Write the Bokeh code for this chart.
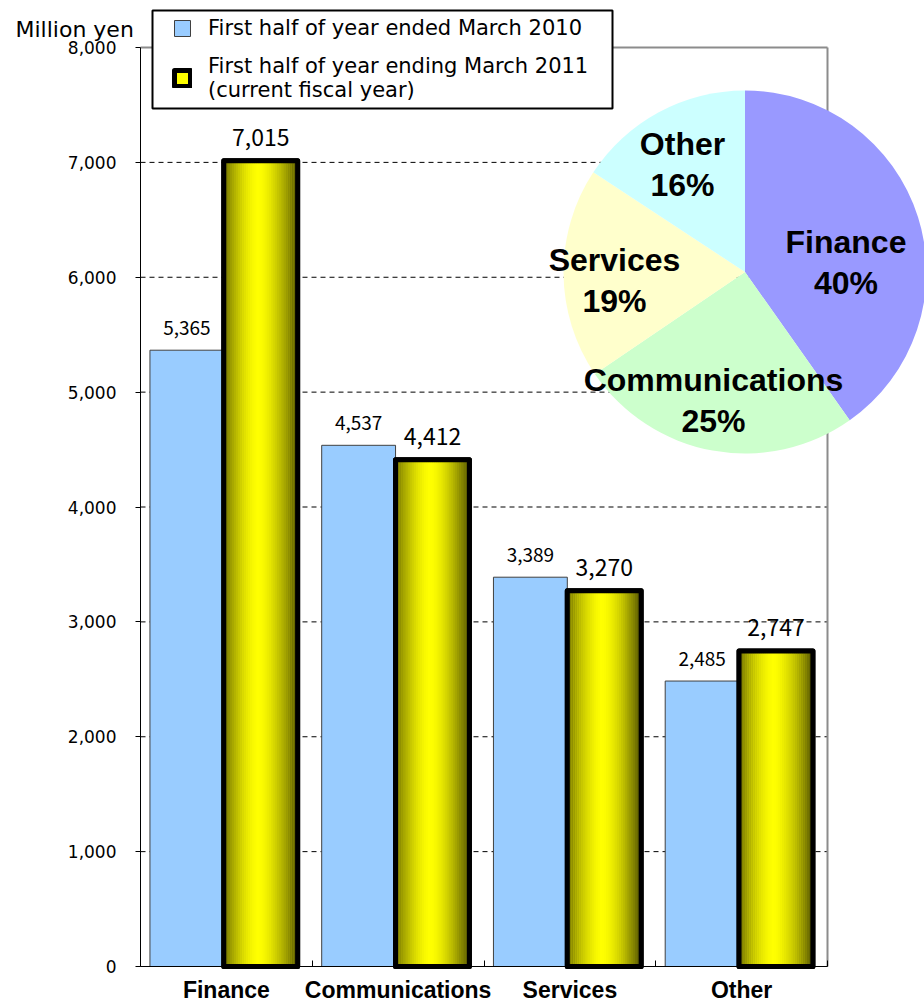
import numpy as np
from bokeh.plotting import figure
from bokeh.models import (Range1d, FixedTicker, NumeralTickFormatter, Legend,
                          LegendItem, Label, BoxAnnotation)
from bokeh.core.properties import value
from bokeh.embed import file_html
from bokeh.resources import INLINE

# ---------------- data ----------------
categories = ["Finance", "Communications", "Services", "Other"]
h1_2010 = [5365, 4537, 3389, 2485]
h1_2011 = [7015, 4412, 3270, 2747]
pie_colors = ["#9999FF", "#CCFFCC", "#FFFFCC", "#CCFFFF"]
y_ticks = [0, 1000, 2000, 3000, 4000, 5000, 6000, 7000, 8000]
legend_labels = ["First half of year ended March 2010",
                 "First half of year ending March 2011\n(current fiscal year)"]
unit_label = "Million yen"

# ---------------- layout constants (pixels) ----------------
W, H = 924, 1003
AX_X = 140          # y axis position
AX_TOP = 47         # pixel row of 8,000
AX_Y0 = 966         # pixel row of 0
PX_PER_CAT = 171.75
ncat = len(categories)
px_per_y = (AX_Y0 - AX_TOP) / 8000.0
bar_w = 0.43
off_a, off_b = 0.27, 0.70


def px2x(px):
    return (px - AX_X) / PX_PER_CAT


def px2y(py):
    return (AX_Y0 - py) / px_per_y


p = figure(width=W, height=H, output_backend="svg", toolbar_location=None,
           x_range=Range1d(px2x(0), px2x(W)), y_range=Range1d(px2y(H), px2y(0)),
           min_border_left=0, min_border_right=0, min_border_top=0,
           min_border_bottom=0, background_fill_color="white",
           border_fill_color="white")
p.outline_line_color = None
p.xgrid.visible = False
p.ygrid.visible = False

idx = np.arange(ncat)

# dashed grid lines inside the plot area
p.segment(x0=[0] * (len(y_ticks) - 2), x1=[ncat] * (len(y_ticks) - 2),
          y0=y_ticks[1:-1], y1=y_ticks[1:-1], line_color="black",
          line_width=1, line_dash="5 4", level="underlay")

# plot-area border (top and right)
p.segment(x0=[0, ncat], y0=[y_ticks[-1], 0], x1=[ncat, ncat],
          y1=[y_ticks[-1], y_ticks[-1]], line_color="#8c8c8c", line_width=2)

# blue bars
r_blue = p.vbar(x=idx + off_a, width=bar_w, top=h1_2010, fill_color="#99CCFF",
                line_color="#404040", line_width=1)

# yellow bars: base, gradient stripes, outline
r_yel = p.vbar(x=idx + off_b, width=bar_w, top=h1_2011, fill_color="#FFFF00",
               line_color="black", line_width=5, line_join="round")
N = 36
xs, tops, cols = [], [], []
for i in range(ncat):
    for k in range(N):
        t = (k + 0.5) / N
        d = abs(t - 0.47) / 0.53
        b = 1 - 0.68 * d ** 1.6
        c = int(round(255 * b))
        xs.append(i + off_b - bar_w / 2 + t * bar_w)
        tops.append(h1_2011[i])
        cols.append("#%02x%02x00" % (c, c))
p.vbar(x=xs, width=bar_w / N * 1.15, top=tops, fill_color=cols, line_color=None)
p.vbar(x=idx + off_b, width=bar_w, top=h1_2011, fill_color=None,
       line_color="black", line_width=5, line_join="round")

# value labels
p.text(x=idx + off_a, y=h1_2010, text=[f"{v:,}" for v in h1_2010],
       y_offset=-22, text_align="center", text_baseline="alphabetic",
       text_font=value("Noto Sans CJK JP"), text_font_size="19px",
       text_color="black")
p.text(x=idx + off_b, y=h1_2011, text=[f"{v:,}" for v in h1_2011],
       y_offset=-23, text_align="center", text_baseline="alphabetic",
       text_font=value("Noto Sans CJK JP"), text_font_size="23px",
       text_color="black")

# ---------------- pie of current fiscal year ----------------
pie_cx = px2x(744.5)
pie_cy = px2y(271.5)
pie_r = 181.5
tot = float(sum(h1_2011))
fr = np.array(h1_2011) / tot
cum = np.concatenate([[0], np.cumsum(fr)])
start = np.pi / 2 - 2 * np.pi * cum[:-1]
end = np.pi / 2 - 2 * np.pi * cum[1:]
p.wedge(x=[pie_cx] * ncat, y=[pie_cy] * ncat, radius=pie_r, radius_units="screen",
        start_angle=start, end_angle=end, direction="clock",
        fill_color=pie_colors, line_color=None)
lab_dx = [101, -31.5, -130.5, -62.5]
lab_dy = [-9.5, 128.5, 8.5, -107.5]
pie_text = [f"{c}\n{int(round(f * 100))}%" for c, f in zip(categories, fr)]
p.text(x=[pie_cx] * ncat, y=[pie_cy] * ncat, text=pie_text, x_offset=lab_dx,
       y_offset=lab_dy, text_align="center", text_baseline="middle",
       text_font=value("Liberation Sans"), text_font_style="bold",
       text_font_size="32px", text_line_height=1.15, text_color="black")

# ---------------- axes (fixed at the data origin) ----------------
yax = p.yaxis[0]
yax.fixed_location = 0
yax.ticker = FixedTicker(ticks=y_ticks)
yax.formatter = NumeralTickFormatter(format="0,0")
yax.bounds = (0, y_ticks[-1])
yax.major_label_text_font = "DejaVu Sans"
yax.major_label_text_font_size = "17px"
yax.major_label_text_color = "black"
yax.major_tick_out = 5
yax.major_tick_in = 0
yax.minor_tick_out = 0
yax.minor_tick_in = 0
yax.major_label_standoff = 19
yax.axis_line_color = "black"
yax.major_tick_line_color = "black"

xax = p.xaxis[0]
xax.fixed_location = 0
xax.ticker = FixedTicker(ticks=[i + 0.5 for i in range(ncat)],
                         minor_ticks=list(range(ncat + 1)))
xax.major_label_overrides = {i + 0.5: c for i, c in enumerate(categories)}
xax.bounds = (0, ncat)
xax.major_label_text_font = "Liberation Sans"
xax.major_label_text_font_style = "bold"
xax.major_label_text_font_size = "23px"
xax.major_label_text_color = "black"
xax.major_tick_out = 0
xax.major_tick_in = 0
xax.minor_tick_in = 6
xax.minor_tick_out = 0
xax.minor_tick_line_color = "black"
xax.major_label_standoff = 10
xax.axis_line_color = "black"

# unit label
p.add_layout(Label(x=px2x(15), y=px2y(29), x_units="data", y_units="data",
                   text=unit_label, text_font="DejaVu Sans",
                   text_font_size="22px", text_color="black",
                   text_baseline="alphabetic"))

# legend frame
p.add_layout(BoxAnnotation(left=px2x(152), right=px2x(612), top=px2y(10),
                           bottom=px2y(108), fill_color="white", fill_alpha=1,
                           line_color="black", line_width=2, line_alpha=1))

# legend (location = left / bottom edge in px from the frame's bottom-left)
legend = Legend(items=[LegendItem(label=legend_labels[0], renderers=[r_blue]),
                       LegendItem(label=legend_labels[1], renderers=[r_yel])],
                location=(172, H - 102))
legend.border_line_color = None
legend.background_fill_alpha = 0
legend.padding = 4
legend.spacing = 14
legend.margin = 0
legend.label_standoff = 16
legend.glyph_width = 20
legend.glyph_height = 20
legend.label_text_font = "DejaVu Sans"
legend.label_text_font_size = "21px"
legend.label_text_line_height = 1.05
legend.label_text_color = "black"
p.add_layout(legend)

open("out.html", "w").write(file_html(p, INLINE))
